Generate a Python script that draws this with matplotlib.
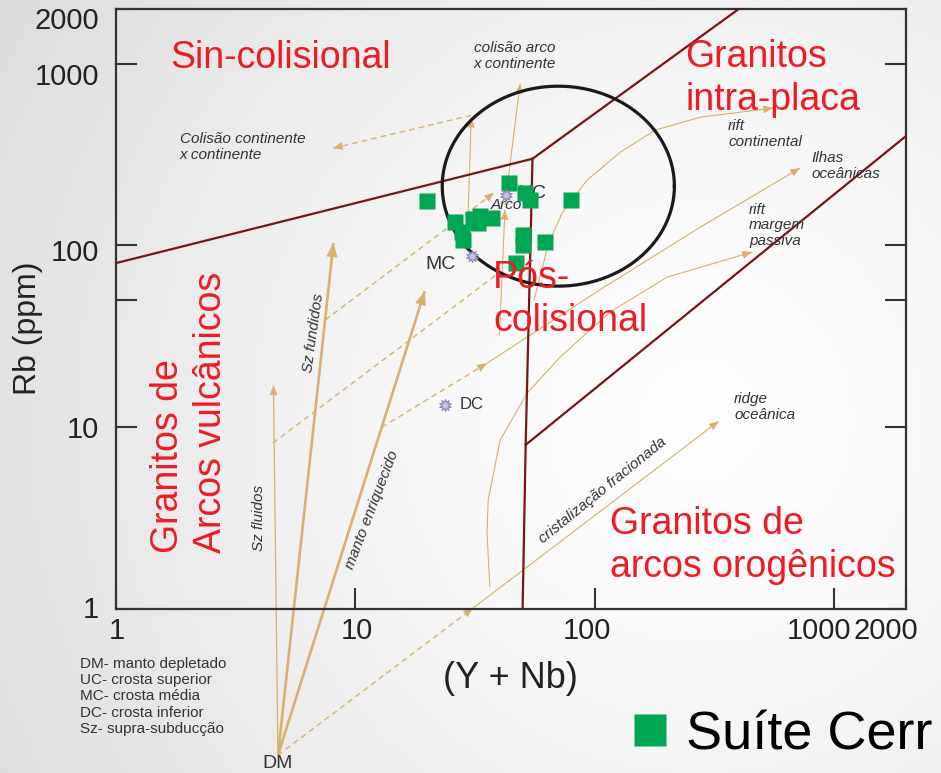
import matplotlib
matplotlib.use("Agg")
import matplotlib.pyplot as plt
import numpy as np
from matplotlib.lines import Line2D
from matplotlib.transforms import ScaledTranslation

plt.rcParams.update({
    "font.family": ["Liberation Sans", "DejaVu Sans"],
    "axes.edgecolor": "#333333", "axes.linewidth": 1.6,
    "xtick.color": "#333333", "ytick.color": "#333333",
    "xtick.labelcolor": "#222222", "ytick.labelcolor": "#222222",
})
RED = "#ED1C24"; WINE = "#7B1418"; TAN = "#D9B06C"; GREEN = "#00A651"; INK = "#333333"

# ---- axes ----
x_ticks = [1, 10, 100, 1000, 2000]
x_ticklabels = ["1", "10", "100", "1000", "2000"]
y_ticks = [1, 10, 50, 100, 1000, 2000]
y_ticklabels = ["1", "10", "", "100", "1000", "2000"]

# ---- field boundaries (Rb vs Y+Nb) ----
syn_vag_x, syn_vag_y = [1, 55], [80, 300]
syn_wpg_x, syn_wpg_y = [55, 400], [300, 2000]
vag_wpg_x, vag_wpg_y = [55, 51.5, 50], [300, 8, 1]
org_wpg_x, org_wpg_y = [51.5, 2000], [8, 400]

# post-collisional field: centre and half-axes (decades)
post_cx, post_cy = 70.5, 212
post_rx, post_ry = 0.485, 0.55

# ---- samples ----
sample_x = [43.9, 51.2, 53.7, 19.9, 79.7, 26.1, 31.0, 33.2, 37.3, 32.6,
            27.9, 28.2, 50.2, 50.2, 62.1, 46.9]
sample_y = [220, 194, 178, 175, 178, 135, 140, 145, 142, 133,
            119, 107, 114, 100.5, 104, 80]

# ---- crustal reservoirs (UC, MC, DC) and depleted mantle ----
res_x = [42.6, 30.7, 23.7]
res_y = [189, 87.5, 13.3]
dm_x, dm_y = 4.75, 0.157

# ---- petrogenetic trend arrows ----
sz_fluid_x, sz_fluid_y = [dm_x, 4.55], [dm_y, 17]
sz_melt_x, sz_melt_y = [dm_x, 8.1], [dm_y, 103]
enriched_x, enriched_y = [dm_x, 19.5], [dm_y, 56]
dm_dash_x, dm_dash_y = [dm_x, 31], [dm_y, 1.01]
frac_x, frac_y = [31, 330], [1.01, 10.8]
melt_arc_x, melt_arc_y = [7.5, 38], [39, 195]
fluid_dash_x, fluid_dash_y = [4.53, 40], [8.2, 71]
enr_dash_x, enr_dash_y = [12.9, 35.5], [10, 22.5]
ocean_isl_x, ocean_isl_y = [35.5, 105, 276, 722], [22.5, 56.9, 126, 267]
ccol_up_x, ccol_up_y = [29.6, 30.5], [149, 505]
ccol_dash_x, ccol_dash_y = [30.5, 8.07], [520, 343]
arc_up1_x, arc_up1_y = [40, 42.2], [32, 157]
arc_up2_x, arc_up2_y = [42.2, 48.8], [167, 772]
rift_cont_x = [55.8, 63.9, 73.1, 93.0, 128, 179, 276, 557]
rift_cont_y = [50.1, 100.5, 151, 229, 326, 431, 508, 570]
rift_pm_x = [36.5, 35.5, 35.9, 40.3, 52.2, 71.7, 116, 201, 455]
rift_pm_y = [1.32, 2.62, 3.98, 8.5, 15.4, 24.3, 43.0, 67.0, 92.0]

fig = plt.figure(figsize=(9.41, 7.73), dpi=100)

# soft grey background
bg = fig.add_axes([0, 0, 1, 1], zorder=-10)
yy, xx = np.mgrid[0:773, 0:941]
r = np.hypot(xx - 700, yy - 420) / 800
g = 0.995 - 0.13 * r ** 1.5
bg.imshow(np.dstack([g, g, g]), extent=[0, 1, 0, 1], aspect="auto")
bg.axis("off")

ax = fig.add_axes([116 / 941, 164 / 773, 790 / 941, 600 / 773])
ax.set_facecolor("none")
ax.set_xscale("log"); ax.set_yscale("log")
ax.set_xlim(1, 2000); ax.set_ylim(1, 2000)


def arrow(xs, ys, lw=0.8, dashed=False, head=True, ms=7):
    ax.plot(xs, ys, color=TAN, lw=lw, ls=(0, (4, 3)) if dashed else "-",
            clip_on=False, zorder=2, solid_capstyle="butt")
    if head:
        ax.annotate("", xy=(xs[-1], ys[-1]), xytext=(xs[-2], ys[-2]),
                    arrowprops=dict(arrowstyle="-|>,head_length=1.0,head_width=0.4",
                                    color=TAN, lw=0.01, shrinkA=0, shrinkB=0,
                                    mutation_scale=ms),
                    annotation_clip=False, zorder=2)


arrow(sz_fluid_x, sz_fluid_y, lw=0.9)
arrow(sz_melt_x, sz_melt_y, lw=1.9, ms=10)
arrow(enriched_x, enriched_y, lw=1.9, ms=10)
arrow(dm_dash_x, dm_dash_y, lw=1.0, dashed=True)
arrow(frac_x, frac_y, lw=0.8)
arrow(melt_arc_x, melt_arc_y, lw=1.0, dashed=True)
arrow(fluid_dash_x, fluid_dash_y, lw=1.0, dashed=True, head=False)
arrow(enr_dash_x, enr_dash_y, lw=1.0, dashed=True)
arrow(ocean_isl_x, ocean_isl_y, lw=0.8)
arrow(ccol_up_x, ccol_up_y, lw=0.8)
arrow(ccol_dash_x, ccol_dash_y, lw=1.0, dashed=True)
arrow(arc_up1_x, arc_up1_y, lw=0.8)
arrow(arc_up2_x, arc_up2_y, lw=0.8)
arrow(rift_cont_x, rift_cont_y, lw=0.8)
arrow(rift_pm_x, rift_pm_y, lw=0.8)

# boundaries
for bx, by in [(syn_vag_x, syn_vag_y), (syn_wpg_x, syn_wpg_y),
               (vag_wpg_x, vag_wpg_y), (org_wpg_x, org_wpg_y)]:
    ax.plot(bx, by, color=WINE, lw=1.6, zorder=3)

t = np.linspace(0, 2 * np.pi, 300)
ax.plot(10 ** (np.log10(post_cx) + post_rx * np.cos(t)),
        10 ** (np.log10(post_cy) + post_ry * np.sin(t)),
        color="#1A1A1A", lw=2.3, zorder=3)

ax.plot(sample_x, sample_y, "s", color=GREEN, ms=11, mec="none", zorder=4)
ax.plot(res_x, res_y, marker=(10, 1, 0), ls="none", ms=9, mfc="#C4C2E0",
        mec="#8E8CB0", mew=0.8, zorder=5)

# point labels
ax.text(47.9, 194, "UC", fontsize=14, color=INK, va="center", zorder=3.5)
ax.text(42.6, 167, "Arco", fontsize=11, style="italic", color=INK,
        ha="center", va="center", zorder=6)
ax.text(22.6, 79, "MC", fontsize=14, color=INK, ha="center", va="center")
ax.text(27.4, 13.4, "DC", fontsize=12, color=INK, va="center")
ax.text(dm_x, dm_y, "DM", fontsize=14, color=INK, ha="center", va="top",
        clip_on=False)

# field names (va="baseline" anchors the last line)
big = dict(fontsize=27, color=RED, zorder=6, linespacing=1.25)
ax.text(1.68, 946, "Sin-colisional", va="baseline", **big)
ax.text(239, 556, "Granitos\nintra-placa", va="baseline", **big)
ax.text(37.6, 33.8, "Pós-\ncolisional", va="baseline", **big)
ax.text(116, 1.50, "Granitos de\narcos orogênicos", va="baseline", **big)
ax.text(2.57, 2.03, "Granitos de\nArcos vulcânicos", rotation=90,
        rotation_mode="anchor", ha="left", va="baseline", **big)

# trend names
it = dict(fontsize=11, style="italic", color=INK, linespacing=1.15)
ax.text(1.85, 348, "Colisão continente\nx continente", va="center", **it)
ax.text(31.3, 1101, "colisão arco\nx continente", va="center", **it)
ax.text(361, 410, "rift\ncontinental", va="center", **it)
ax.text(802, 273, "Ilhas\noceânicas", va="center", **it)
ax.text(442, 129, "rift\nmargem\npassiva", va="center", **it)
ax.text(383, 12.9, "ridge\noceânica", va="center", **it)
ax.text(108, 4.51, "cristalização fracionada", rotation=39, ha="center",
        va="center", rotation_mode="anchor", **it)
ax.text(11.7, 3.5, "manto enriquecido", rotation=69, ha="center",
        va="center", rotation_mode="anchor", **it)
ax.text(6.72, 33.0, "Sz fundidos", rotation=82, ha="center",
        va="center", rotation_mode="anchor", **it)
ax.text(3.96, 3.17, "Sz fluidos", rotation=90, ha="center",
        va="center", rotation_mode="anchor", **it)

# ticks
ax.set_xticks(x_ticks); ax.set_xticklabels(x_ticklabels)
ax.set_yticks(y_ticks); ax.set_yticklabels(y_ticklabels)
ax.minorticks_off()
ax.tick_params(axis="both", direction="in", length=15, width=1.5,
               labelsize=21)
ax.tick_params(axis="y", right=True, pad=12)
ax.tick_params(axis="x", pad=6)
for lab, dx in zip(ax.get_xticklabels(), [1, 2, -8, -15, -20]):
    lab.set_transform(lab.get_transform() +
                      ScaledTranslation(dx / 100, 0, fig.dpi_scale_trans))
for lab, dy in zip(ax.get_yticklabels(), [2, 0, 0, -5, -10, -9]):
    lab.set_transform(lab.get_transform() +
                      ScaledTranslation(0, dy / 100, fig.dpi_scale_trans))

ax.set_ylabel("Rb (ppm)", fontsize=23, color="#222222")
ax.yaxis.set_label_coords(-0.093, 0.468)
ax.set_xlabel("(Y + Nb)", fontsize=26, color="#222222")
ax.xaxis.set_label_coords(0.499, -0.087)

fig.text(80 / 941, 1 - 657 / 773,
         "DM- manto depletado\nUC- crosta superior\nMC- crosta média\n"
         "DC- crosta inferior\nSz- supra-subducção",
         fontsize=11, color=INK, va="top", linespacing=1.2)

fig.legend(handles=[Line2D([], [], marker="s", ls="none", color=GREEN,
                           ms=23, mec="none")],
           labels=["Suíte Cerr"], loc="center left",
           bbox_to_anchor=(634 / 941, 1 - 735 / 773), frameon=False,
           fontsize=39, handlelength=0.6, handletextpad=0.36,
           borderpad=0, borderaxespad=0)

fig.savefig("out.png", dpi=100)
